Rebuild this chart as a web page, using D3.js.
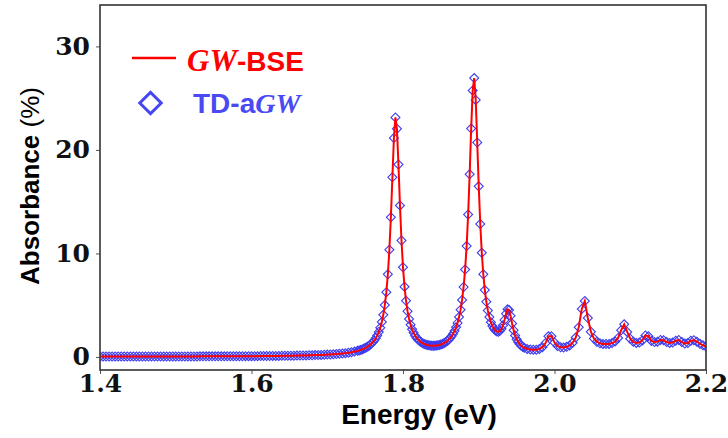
<!DOCTYPE html>
<html>
<head>
<meta charset="utf-8">
<script src="https://cdnjs.cloudflare.com/ajax/libs/d3/7.8.5/d3.min.js"></script>
<style>
  body { margin: 0; background: #fff; }
  .tick text { font-family: "DejaVu Serif", serif; font-weight: bold; font-size: 25px; fill: #111; }
  .tick line { stroke: #555; }
  .domain { display: none; }
</style>
</head>
<body>
<svg width="728" height="438"></svg>
<script>
// energy grid (eV): coarse on the flat onset, finer over the two big peaks
var energyOnset = [
  1.400, 1.404, 1.408, 1.412, 1.416, 1.420, 1.424, 1.428, 1.432, 1.436,
  1.440, 1.444, 1.448, 1.452, 1.456, 1.460, 1.464, 1.468, 1.472, 1.476,
  1.480, 1.484, 1.488, 1.492, 1.496, 1.500, 1.504, 1.508, 1.512, 1.516,
  1.520, 1.524, 1.528, 1.532, 1.536, 1.540, 1.544, 1.548, 1.552, 1.556,
  1.560, 1.564, 1.568, 1.572, 1.576, 1.580, 1.584, 1.588, 1.592, 1.596,
  1.600, 1.604, 1.608, 1.612, 1.616, 1.620, 1.624, 1.628, 1.632, 1.636,
  1.640, 1.644, 1.648, 1.652, 1.656, 1.660, 1.664, 1.668, 1.672, 1.676,
  1.680, 1.684, 1.688, 1.692, 1.696, 1.700, 1.704, 1.708, 1.712, 1.716,
  1.720, 1.724, 1.728, 1.732, 1.736
];
var absOnset = [
  0.04, 0.04, 0.04, 0.04, 0.04, 0.04, 0.04, 0.04, 0.04, 0.04,
  0.04, 0.04, 0.04, 0.04, 0.04, 0.04, 0.04, 0.04, 0.04, 0.05,
  0.05, 0.05, 0.05, 0.05, 0.05, 0.05, 0.05, 0.05, 0.05, 0.05,
  0.05, 0.05, 0.05, 0.06, 0.06, 0.06, 0.06, 0.06, 0.06, 0.06,
  0.06, 0.06, 0.07, 0.07, 0.07, 0.07, 0.07, 0.07, 0.08, 0.08,
  0.08, 0.08, 0.08, 0.09, 0.09, 0.09, 0.09, 0.10, 0.10, 0.10,
  0.11, 0.11, 0.12, 0.12, 0.12, 0.13, 0.14, 0.14, 0.15, 0.16,
  0.17, 0.18, 0.19, 0.20, 0.21, 0.23, 0.24, 0.26, 0.28, 0.31,
  0.34, 0.37, 0.41, 0.46, 0.52
];

var energyPeaks = [
  1.740, 1.742, 1.744, 1.746, 1.748, 1.750, 1.752, 1.754, 1.756, 1.758,
  1.760, 1.762, 1.764, 1.766, 1.768, 1.770, 1.772, 1.774, 1.776, 1.778,
  1.780, 1.782, 1.784, 1.786, 1.788, 1.790, 1.792, 1.794, 1.796, 1.798,
  1.800, 1.802, 1.804, 1.806, 1.808, 1.810, 1.812, 1.814, 1.816, 1.818,
  1.820, 1.822, 1.824, 1.826, 1.828, 1.830, 1.832, 1.834, 1.836, 1.838,
  1.840, 1.842, 1.844, 1.846, 1.848, 1.850, 1.852, 1.854, 1.856, 1.858,
  1.860, 1.862, 1.864, 1.866, 1.868, 1.870, 1.872, 1.874, 1.876, 1.878,
  1.880, 1.882, 1.884, 1.886, 1.888, 1.890, 1.892, 1.894, 1.896, 1.898,
  1.900, 1.902, 1.904, 1.906, 1.908, 1.910, 1.912, 1.914, 1.916, 1.918,
  1.920, 1.922, 1.924, 1.926, 1.928, 1.930, 1.932, 1.934, 1.936, 1.938,
  1.940, 1.942, 1.944, 1.946, 1.948, 1.950, 1.952, 1.954, 1.956, 1.958,
  1.960
];
var absPeaks = [
  0.59, 0.63, 0.68, 0.73, 0.79, 0.86, 0.94, 1.03, 1.14, 1.27,
  1.42, 1.60, 1.81, 2.08, 2.41, 2.83, 3.37, 4.07, 5.01, 6.26,
  7.99, 10.35, 13.50, 17.36, 21.15, 23.14, 22.04, 18.59, 14.64, 11.25,
  8.67, 6.79, 5.43, 4.42, 3.67, 3.11, 2.67, 2.33, 2.06, 1.84,
  1.67, 1.53, 1.42, 1.33, 1.26, 1.20, 1.15, 1.12, 1.10, 1.09,
  1.08, 1.09, 1.10, 1.13, 1.16, 1.21, 1.26, 1.33, 1.42, 1.52,
  1.65, 1.80, 1.99, 2.22, 2.50, 2.86, 3.29, 3.85, 4.57, 5.51,
  6.76, 8.45, 10.71, 13.76, 17.65, 22.06, 25.75, 26.94, 24.83, 20.72,
  16.48, 12.84, 10.06, 7.99, 6.46, 5.33, 4.49, 3.85, 3.36, 3.00,
  2.74, 2.56, 2.46, 2.44, 2.52, 2.72, 3.07, 3.57, 4.17, 4.60,
  4.54, 3.97, 3.24, 2.59, 2.08, 1.72, 1.44, 1.24, 1.09, 0.98,
  0.89
];

var energyHigh = [
  1.964, 1.968, 1.972, 1.976, 1.980, 1.984, 1.988, 1.992, 1.996, 2.000,
  2.004, 2.008, 2.012, 2.016, 2.020, 2.024, 2.028, 2.032, 2.036, 2.040,
  2.044, 2.048, 2.052, 2.056, 2.060, 2.064, 2.068, 2.072, 2.076, 2.080,
  2.084, 2.088, 2.092, 2.096, 2.100, 2.104, 2.108, 2.112, 2.116, 2.120,
  2.124, 2.128, 2.132, 2.136, 2.140, 2.144, 2.148, 2.152, 2.156, 2.160,
  2.164, 2.168, 2.172, 2.176, 2.180, 2.184, 2.188, 2.192, 2.196, 2.200
];
var absHigh = [
  0.78, 0.72, 0.70, 0.70, 0.78, 0.94, 1.32, 1.99, 2.01, 1.39,
  1.06, 0.94, 0.92, 0.98, 1.11, 1.38, 1.87, 2.87, 4.63, 5.40,
  3.77, 2.44, 1.78, 1.47, 1.33, 1.26, 1.25, 1.26, 1.34, 1.49,
  1.84, 2.58, 3.15, 2.42, 1.77, 1.46, 1.36, 1.39, 1.60, 2.08,
  2.01, 1.55, 1.45, 1.48, 1.64, 1.62, 1.44, 1.36, 1.40, 1.56,
  1.64, 1.44, 1.30, 1.34, 1.56, 1.62, 1.48, 1.28, 1.12, 1.00
];

var xTicks = [1.4, 1.6, 1.8, 2.0, 2.2];
var xTickLabels = ["1.4", "1.6", "1.8", "2.0", "2.2"];
var yTicks = [0, 10, 20, 30];

var energy = energyOnset.concat(energyPeaks, energyHigh);
var gwbse = absOnset.concat(absPeaks, absHigh);
var tdagw = gwbse; // the two spectra lie on top of each other in the figure

var points = energy.map(function(e, i) { return { e: e, bse: gwbse[i], td: tdagw[i] }; });

var svg = d3.select("svg");
var plotL = 100, plotR = 706, plotT = 5, plotB = 370;

var x = d3.scaleLinear().domain([1.4, 2.2]).range([plotL, plotR]);
var y = d3.scaleLinear().domain([-1.26, 34.0]).range([plotB, plotT]);

svg.append("defs").append("clipPath").attr("id", "plotclip")
  .append("rect")
  .attr("x", plotL).attr("y", plotT)
  .attr("width", plotR - plotL).attr("height", plotB - plotT);

// axes
svg.append("g")
  .attr("transform", "translate(0," + plotB + ")")
  .call(d3.axisBottom(x).tickValues(xTicks)
    .tickFormat(function(d, i) { return xTickLabels[i]; })
    .tickSize(4).tickPadding(0));

svg.append("g")
  .attr("transform", "translate(" + plotL + ",0)")
  .call(d3.axisLeft(y).tickValues(yTicks).tickSize(4).tickPadding(6));

var plot = svg.append("g").attr("clip-path", "url(#plotclip)");

// TD-aGW diamonds
plot.selectAll(".td")
  .data(points)
  .enter().append("path")
  .attr("class", "td")
  .attr("d", d3.symbol().type(d3.symbolSquare).size(40))
  .attr("transform", function(d) { return "translate(" + x(d.e) + "," + y(d.td) + ") rotate(45)"; })
  .attr("fill", "none")
  .attr("stroke", "#3c3cf0")
  .attr("stroke-width", 1.1);

// GW-BSE line
plot.append("path")
  .datum(points)
  .attr("fill", "none")
  .attr("stroke", "#ff0000")
  .attr("stroke-width", 2)
  .attr("d", d3.line().x(function(d) { return x(d.e); }).y(function(d) { return y(d.bse); }));

// frame
svg.append("rect")
  .attr("x", plotL).attr("y", plotT)
  .attr("width", plotR - plotL).attr("height", plotB - plotT)
  .attr("fill", "none")
  .attr("stroke", "#333")
  .attr("stroke-width", 1.6);

// axis titles
svg.append("text")
  .attr("x", 419).attr("y", 424)
  .attr("text-anchor", "middle")
  .attr("font-family", "'Liberation Sans', Arial, sans-serif")
  .attr("font-weight", "bold").attr("font-size", 28)
  .text("Energy (eV)");

var ylab = svg.append("text")
  .attr("transform", "translate(39,186) rotate(-90)")
  .attr("text-anchor", "middle")
  .attr("font-family", "'Liberation Sans', Arial, sans-serif")
  .attr("font-size", 26);
ylab.append("tspan").attr("font-weight", "bold").text("Absorbance ");
ylab.append("tspan").attr("font-weight", "normal").text("(%)");

// legend
svg.append("line")
  .attr("x1", 132).attr("x2", 176).attr("y1", 58).attr("y2", 58)
  .attr("stroke", "#ff0000").attr("stroke-width", 2.5);

var leg1 = svg.append("text").attr("x", 187).attr("y", 71)
  .attr("fill", "#ff0000").attr("font-size", 28).attr("font-weight", "bold");
leg1.append("tspan").attr("font-family", "'Liberation Serif', serif").attr("font-style", "italic").attr("font-size", 31).text("GW");
leg1.append("tspan").attr("font-family", "'Liberation Sans', Arial, sans-serif").text("-BSE");

svg.append("path")
  .attr("d", d3.symbol().type(d3.symbolSquare).size(230))
  .attr("transform", "translate(150.5,103) rotate(45)")
  .attr("fill", "none")
  .attr("stroke", "#4646f2")
  .attr("stroke-width", 3);

var leg2 = svg.append("text").attr("x", 193).attr("y", 113)
  .attr("fill", "#4a4af5").attr("font-size", 28).attr("font-weight", "bold");
leg2.append("tspan").attr("font-family", "'Liberation Sans', Arial, sans-serif").text("TD-a");
leg2.append("tspan").attr("font-family", "'Liberation Serif', serif").attr("font-style", "italic").text("GW");
</script>
</body>
</html>
